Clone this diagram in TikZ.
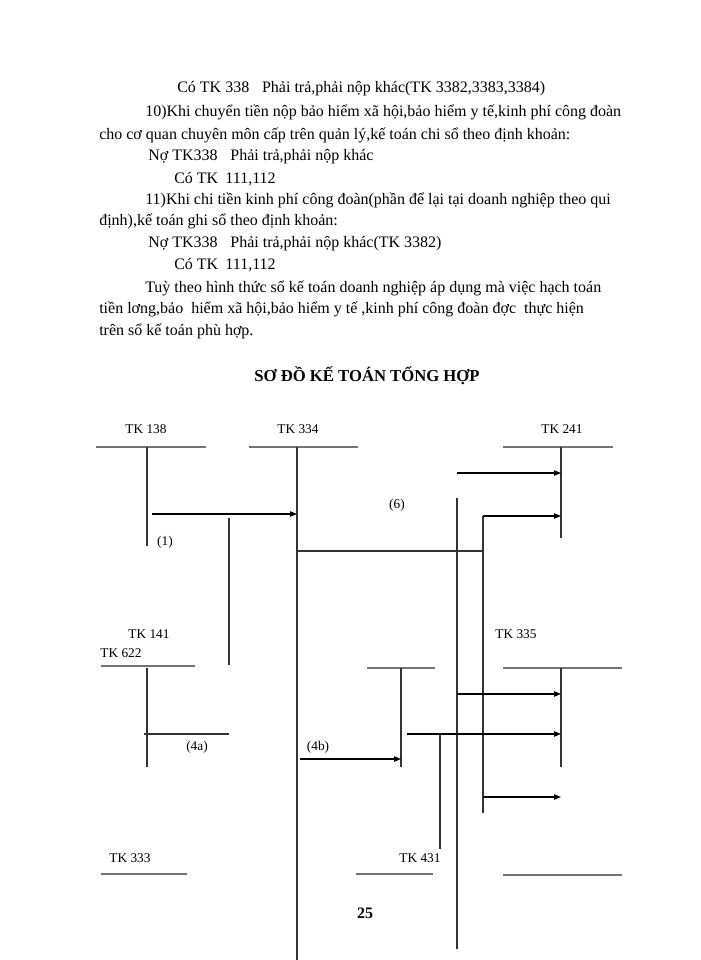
\documentclass[tikz,border=0pt]{standalone}
\usepackage{fontspec}
\setmainfont{Liberation Serif}
\usetikzlibrary{arrows.meta}

\tikzset{
  para/.style={anchor=base west, inner sep=0pt, font=\fontsize{12}{14}\selectfont},
  tklabel/.style={inner sep=0pt, font=\fontsize{10}{12}\selectfont},
  hbar/.style={draw=black!55, line width=1.2pt},
  vbar/.style={draw=black!80, line width=0.8pt},
  flow/.style={->, draw=black, line width=0.8pt},
}

\begin{document}
\begin{tikzpicture}[x=0.75pt, y=-0.75pt, >={Triangle[length=5.2pt,width=4pt]}]
    \useasboundingbox (0,0) rectangle (700,960);
    % text above the chart
    \node[para] (l1) at (177,92) {Có TK 338\hspace{0.8em}Phải trả,phải nộp khác(TK 3382,3383,3384)};
    \node[para] (l2) at (145,116) {10)Khi chuyển tiền nộp bảo hiểm xã hội,bảo hiểm y tế,kinh phí công đoàn};
    \node[para] (l3) at (99,139) {cho cơ quan chuyên môn cấp trên quản lý,kế toán chi sổ theo định khoản:};
    \node[para] (l4) at (148,160) {Nợ TK338\hspace{0.8em}Phải trả,phải nộp khác};
    \node[para] (l5) at (174,183) {Có TK\hspace{0.45em}111,112};
    \node[para] (l6) at (145,204) {11)Khi chi tiền kinh phí công đoàn(phần để lại tại doanh nghiệp theo qui};
    \node[para] (l7) at (99,225) {định),kế toán ghi sổ theo định khoản:};
    \node[para] (l8) at (148,247) {Nợ TK338\hspace{0.8em}Phải trả,phải nộp khác(TK 3382)};
    \node[para] (l9) at (174,269) {Có TK\hspace{0.45em}111,112};
    \node[para] (l10) at (145,292) {Tuỳ theo hình thức sổ kế toán doanh nghiệp áp dụng mà việc hạch toán};
    \node[para] (l11) at (99,313) {tiền lơng,bảo\hspace{0.5em}hiểm xã hội,bảo hiểm y tế ,kinh phí công đoàn đợc\hspace{0.5em}thực hiện};
    \node[para] (l12) at (99,335) {trên sổ kế toán phù hợp.};
    \node[font=\bfseries\fontsize{12.5}{14}\selectfont] (title) at (367,376) {SƠ ĐỒ KẾ TOÁN TỔNG HỢP};

    % account names
    \node[tklabel] (tk138) at (146,429) {TK 138};
    \node[tklabel] (tk334) at (298,429) {TK 334};
    \node[tklabel] (tk241) at (562,429) {TK 241};
    \node[tklabel] (tk141) at (149,634) {TK 141};
    \node[tklabel] (tk622) at (121,653) {TK 622};
    \node[tklabel] (tk335) at (516,634) {TK 335};
    \node[tklabel] (tk333) at (130,858) {TK 333};
    \node[tklabel] (tk431) at (420,858) {TK 431};
    \node[tklabel] (n1) at (165,542) {(1)};
    \node[tklabel] (n6) at (397,505) {(6)};
    \node[tklabel] (n4a) at (197,747) {(4a)};
    \node[tklabel] (n4b) at (318,747) {(4b)};
    \node[font=\bfseries\fontsize{12}{14}\selectfont] (page) at (365,913) {25};

    % T accounts
    \draw[hbar] (96,447) -- (206,447);
    \draw[vbar] (147,447) -- (147,546);
    \draw[hbar] (249,447) -- (358,447);
    \draw[vbar] (297,447) -- (297,960);
    \draw[hbar] (503,447) -- (613,447);
    \draw[vbar] (561,447) -- (561,538);
    \draw[hbar] (101,666) -- (195,666);
    \draw[vbar] (147,668) -- (147,767);
    \draw[vbar] (229,518) -- (229,665);
    \draw[hbar] (367,668) -- (435,668);
    \draw[vbar] (401,668) -- (401,767);
    \draw[hbar] (503,668) -- (622,668);
    \draw[vbar] (561,668) -- (561,767);
    \draw[hbar] (101,874) -- (187,874);
    \draw[hbar] (356,874) -- (433,874);
    \draw[hbar] (503,875) -- (622,875);

    % other lines
    \draw[vbar] (457,498) -- (457,949);
    \draw[vbar] (483,516) -- (483,813);
    \draw[vbar] (297,551) -- (483,551);
    \draw[vbar] (144,734) -- (229,734);
    \draw[vbar] (440,734) -- (440,849);

    % arrows
    \coordinate (a1) at (152,514);  \coordinate (b1) at (297,514);
    \coordinate (a2) at (457,473);  \coordinate (b2) at (561,473);
    \coordinate (a3) at (483,516);  \coordinate (b3) at (561,516);
    \coordinate (a4) at (457,694);  \coordinate (b4) at (561,694);
    \coordinate (a5) at (407,734);  \coordinate (b5) at (561,734);
    \coordinate (a6) at (300,759);  \coordinate (b6) at (401,759);
    \coordinate (a7) at (483,797);  \coordinate (b7) at (561,797);
    \foreach \i in {1,...,7}
        \draw[flow] (a\i) -- (b\i);
\end{tikzpicture}
\end{document}
